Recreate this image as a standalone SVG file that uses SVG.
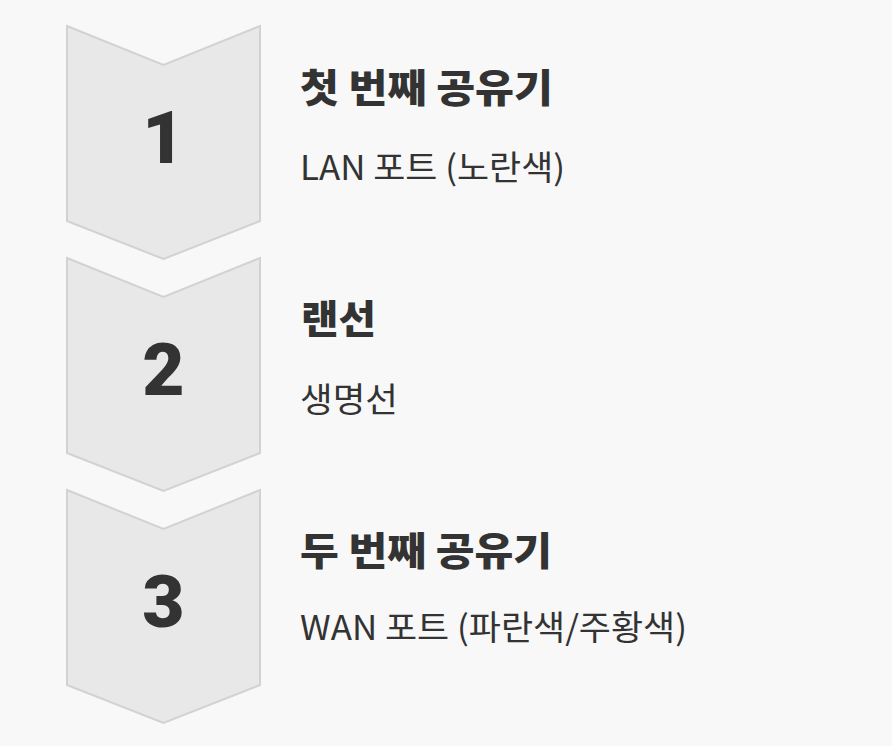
<svg xmlns="http://www.w3.org/2000/svg" width="892" height="746" viewBox="0 0 892 746">
<style>
.chev{fill:#e8e8e8;stroke:#d2d2d2;stroke-width:2}
.num{font-family:Roboto,"Noto Sans",sans-serif;font-weight:900;font-size:73px;fill:#333;text-anchor:middle}
.title{font-family:"Noto Sans CJK KR",sans-serif;font-weight:900;font-size:39px;fill:#333}
.sub{font-family:"Noto Sans CJK KR",sans-serif;font-weight:400;font-size:34px;fill:#333}
</style>
<rect width="892" height="746" fill="#f8f8f8"/>
<defs>
<polygon id="chevron" class="chev" points="67,26 163.5,65 260,26 260,221 163.5,259 67,221"/>
</defs>
<g id="connectors"/>
<g id="step1">
<use href="#chevron"/>
<text class="num" x="163.5" y="163">1</text>
<text class="title" x="300" y="102" textLength="253" lengthAdjust="spacingAndGlyphs">첫 번째 공유기</text>
<text class="sub" x="300" y="180" textLength="265" lengthAdjust="spacingAndGlyphs">LAN 포트 (노란색)</text>
</g>
<g id="step2">
<use href="#chevron" y="232"/>
<text class="num" x="163.5" y="395">2</text>
<text class="title" x="301" y="333" textLength="75" lengthAdjust="spacingAndGlyphs">랜선</text>
<text class="sub" x="300" y="412" textLength="98" lengthAdjust="spacingAndGlyphs">생명선</text>
</g>
<g id="step3">
<use href="#chevron" y="464"/>
<text class="num" x="163.5" y="627">3</text>
<text class="title" x="300" y="565" textLength="252" lengthAdjust="spacingAndGlyphs">두 번째 공유기</text>
<text class="sub" x="300" y="640" textLength="387" lengthAdjust="spacingAndGlyphs">WAN 포트 (파란색/주황색)</text>
</g>
</svg>
